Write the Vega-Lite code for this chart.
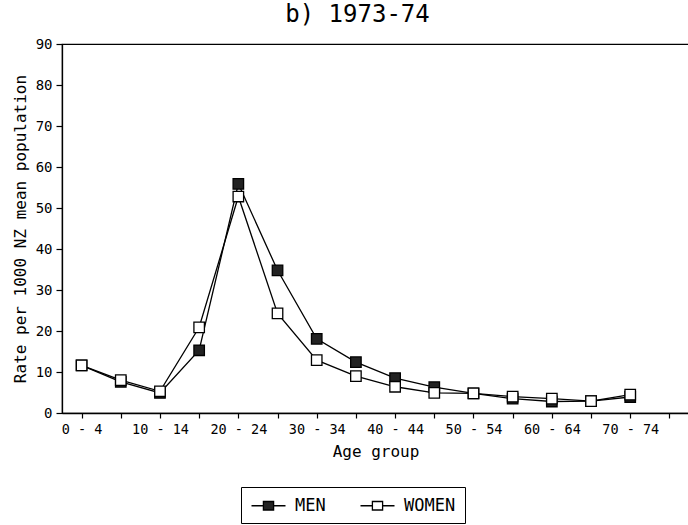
{
  "$schema": "https://vega.github.io/schema/vega-lite/v6.json",
  "autosize": "none",
  "width": 627,
  "height": 369,
  "padding": {"left": 62, "top": 44, "right": 0, "bottom": 112},
  "background": "white",
  "config": {
    "font": "DejaVu Sans Mono",
    "view": {"stroke": "black", "strokeWidth": 1.2},
    "axis": {"domainColor": "black", "tickColor": "black", "labelColor": "black", "titleColor": "black", "grid": false, "domainWidth": 1.3, "tickWidth": 1.2, "labelFont": "DejaVu Sans Mono", "titleFont": "DejaVu Sans Mono"},
    "legend": {"labelFont": "DejaVu Sans Mono"}
  },
  "title": {"text": "b) 1973-74", "fontSize": 24, "fontWeight": "normal", "color": "black", "offset": 10, "anchor": "middle", "dx": -18, "font": "DejaVu Sans Mono"},
  "data": {"values": [
    {"age": "0 - 4", "sex": "MEN", "rate": 11.6},
    {"age": "5 - 9", "sex": "MEN", "rate": 7.6},
    {"age": "10 - 14", "sex": "MEN", "rate": 4.9},
    {"age": "15 - 19", "sex": "MEN", "rate": 15.3},
    {"age": "20 - 24", "sex": "MEN", "rate": 55.9},
    {"age": "25 - 29", "sex": "MEN", "rate": 34.8},
    {"age": "30 - 34", "sex": "MEN", "rate": 18.1},
    {"age": "35 - 39", "sex": "MEN", "rate": 12.4},
    {"age": "40 - 44", "sex": "MEN", "rate": 8.5},
    {"age": "45 - 49", "sex": "MEN", "rate": 6.3},
    {"age": "50 - 54", "sex": "MEN", "rate": 4.8},
    {"age": "55 - 59", "sex": "MEN", "rate": 3.5},
    {"age": "60 - 64", "sex": "MEN", "rate": 2.8},
    {"age": "65 - 69", "sex": "MEN", "rate": 2.9},
    {"age": "70 - 74", "sex": "MEN", "rate": 3.9},
    {"age": "0 - 4", "sex": "WOMEN", "rate": 11.6},
    {"age": "5 - 9", "sex": "WOMEN", "rate": 8.0},
    {"age": "10 - 14", "sex": "WOMEN", "rate": 5.3},
    {"age": "15 - 19", "sex": "WOMEN", "rate": 20.9},
    {"age": "20 - 24", "sex": "WOMEN", "rate": 52.8},
    {"age": "25 - 29", "sex": "WOMEN", "rate": 24.3},
    {"age": "30 - 34", "sex": "WOMEN", "rate": 12.9},
    {"age": "35 - 39", "sex": "WOMEN", "rate": 9.0},
    {"age": "40 - 44", "sex": "WOMEN", "rate": 6.4},
    {"age": "45 - 49", "sex": "WOMEN", "rate": 4.9},
    {"age": "50 - 54", "sex": "WOMEN", "rate": 4.8},
    {"age": "55 - 59", "sex": "WOMEN", "rate": 4.0},
    {"age": "60 - 64", "sex": "WOMEN", "rate": 3.5},
    {"age": "65 - 69", "sex": "WOMEN", "rate": 2.9},
    {"age": "70 - 74", "sex": "WOMEN", "rate": 4.5}
  ]},
  "encoding": {
    "x": {
      "field": "age", "type": "ordinal",
      "scale": {"type": "point", "padding": 0.5, "domain": ["0 - 4","5 - 9","10 - 14","15 - 19","20 - 24","25 - 29","30 - 34","35 - 39","40 - 44","45 - 49","50 - 54","55 - 59","60 - 64","65 - 69","70 - 74","75 - 79"]},
      "axis": {
        "title": "Age group", "titleFontSize": 16, "titleFontWeight": "normal", "titlePadding": 8,
        "labelAngle": 0, "labelFontSize": 13.5, "labelPadding": 4, "labelDx": -7, "tickSize": 5,
        "labelExpr": "indexof(['0 - 4','10 - 14','20 - 24','30 - 34','40 - 44','50 - 54','60 - 64','70 - 74'], datum.label) >= 0 ? datum.label : ''"
      }
    },
    "y": {
      "field": "rate", "type": "quantitative",
      "scale": {"domain": [0, 90], "nice": false},
      "axis": {"title": "Rate per 1000 NZ mean population", "titleFontSize": 16, "titleFontWeight": "normal", "titlePadding": 7, "values": [0,10,20,30,40,50,60,70,80,90], "labelFontSize": 14, "tickSize": 6, "labelPadding": 4}
    }
  },
  "layer": [
    {
      "mark": {"type": "line", "color": "black", "strokeWidth": 1.3},
      "encoding": {"detail": {"field": "sex"}}
    },
    {
      "mark": {"type": "point", "shape": "square", "filled": true, "size": 110, "stroke": "black", "strokeWidth": 1.3, "opacity": 1},
      "encoding": {
        "fill": {
          "field": "sex", "type": "nominal",
          "scale": {"domain": ["MEN", "WOMEN"], "range": ["#222222", "white"]},
          "legend": {
            "title": null, "orient": "none", "direction": "horizontal",
            "legendX": 179, "legendY": 443,
            "strokeColor": "black", "padding": 9, "cornerRadius": 0,
            "labelFontSize": 17, "labelColor": "black", "labelOffset": 17,
            "columnPadding": 31,
            "symbolOffset": 9,
            "symbolType": "M-2,0H-0.6M0.6,0H2M-0.6,-0.5H0.6V0.5H-0.6Z",
            "symbolSize": 289, "symbolStrokeColor": "black", "symbolStrokeWidth": 1.3, "symbolOpacity": 1
          }
        }
      }
    }
  ]
}
